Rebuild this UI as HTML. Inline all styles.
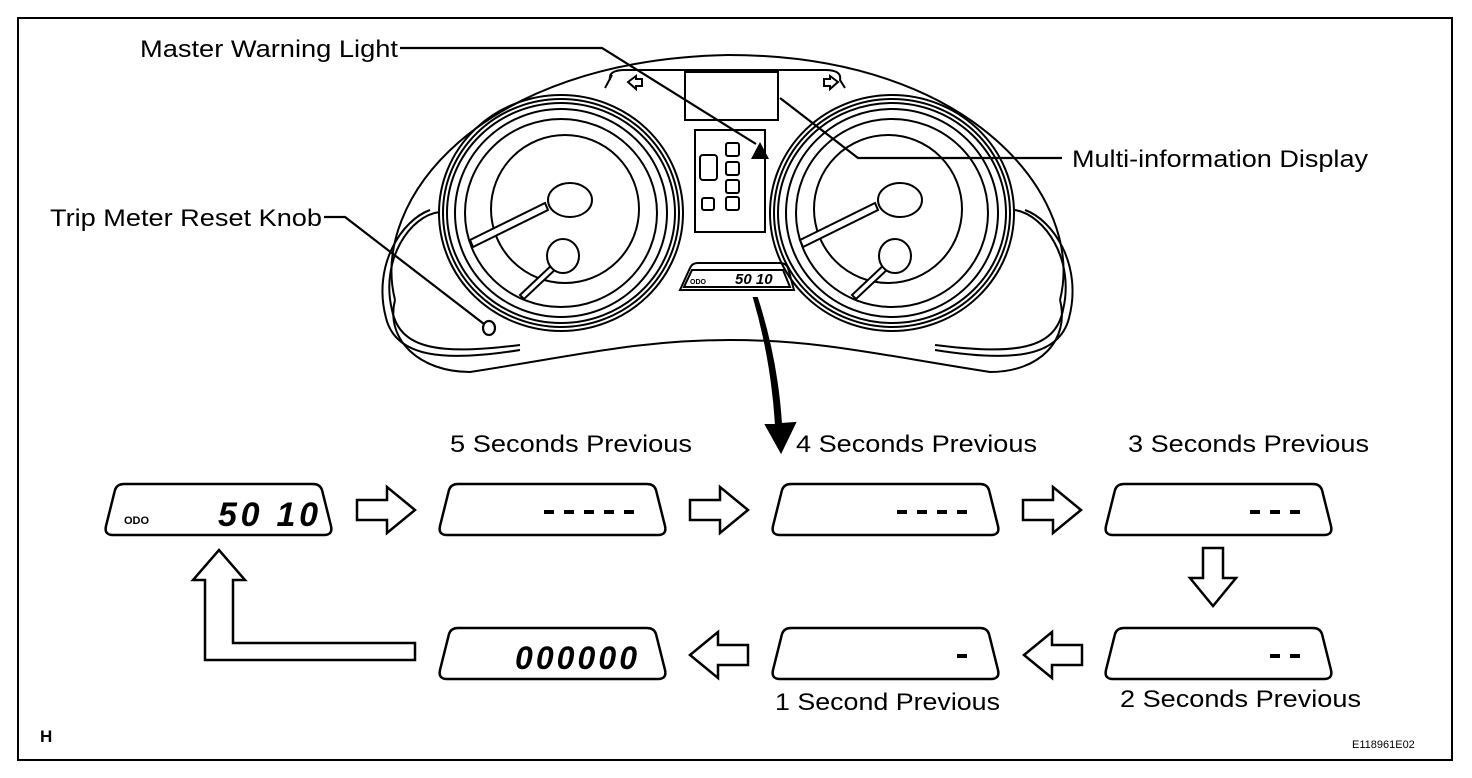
<!DOCTYPE html>
<html><head><style>
html,body{margin:0;padding:0;background:#fff;}
svg{display:block;}
text{font-family:"Liberation Sans",Arial,sans-serif;fill:#000;}
</style></head><body>
<svg width="1472" height="778" viewBox="0 0 1472 778" xmlns="http://www.w3.org/2000/svg">
<defs>
<g id="disp"><path d="M18,0 H207 Q214,0 216,6 L225,42 Q227,51 218,51 H7 Q-2,51 0,42 L9,6 Q11,0 18,0 Z" fill="#fff" stroke="#000" stroke-width="2.5"/></g>
<g id="rarr"><path d="M0,-10 H30 V-23 L58,0 L30,23 V10 H0 Z" fill="#fff" stroke="#000" stroke-width="2.5"/></g>
</defs>
<rect x="18" y="18" width="1434" height="742" fill="none" stroke="#000" stroke-width="2"/>

<!-- cluster -->
<g fill="none" stroke="#000" stroke-width="2">
<path d="M395,300 C370,200 480,60 728,55 C975,55 1085,200 1060,300"/>
<path d="M395,300 C385,340 420,372 470,372 C580,355 640,340 730,340 C820,340 880,355 990,372 C1040,372 1070,340 1060,300"/>
<path d="M440,212 C410,215 380,260 392,310 C400,350 440,355 520,345"/>
<path d="M430,210 C402,220 372,265 386,318 C396,358 445,362 520,350"/>
<path d="M1015,210 C1045,215 1075,260 1063,310 C1055,350 1015,355 935,345"/>
<path d="M1025,210 C1053,220 1083,265 1069,318 C1059,358 1010,362 935,350"/>
<ellipse cx="561" cy="213" rx="122" ry="118"/>
<ellipse cx="561" cy="213" rx="118" ry="114"/>
<ellipse cx="561" cy="213" rx="114" ry="110"/>
<ellipse cx="561" cy="213" rx="106" ry="104"/>
<ellipse cx="561" cy="213" rx="96" ry="94"/>
<ellipse cx="565" cy="209" rx="74" ry="74"/>
<ellipse cx="892" cy="213" rx="122" ry="118"/>
<ellipse cx="892" cy="213" rx="118" ry="114"/>
<ellipse cx="892" cy="213" rx="114" ry="110"/>
<ellipse cx="892" cy="213" rx="106" ry="104"/>
<ellipse cx="892" cy="213" rx="96" ry="94"/>
<ellipse cx="888" cy="209" rx="74" ry="74"/>
<path d="M610,80 Q608,70 625,70 H825 Q842,70 840,80 L845,88"/>
<path d="M605,88 L612,75"/>
<rect x="685" y="72" width="93" height="48"/>
<rect x="695" y="130" width="70" height="102"/>
<path d="M680,290 L690,268 Q692,263 698,263 H780 Q786,263 788,268 L794,290 Z"/>
<path d="M684,287 L692,270 H783 L790,287 Z"/>
<rect x="700" y="155" width="17" height="25" rx="3"/>
<rect x="726" y="143" width="13" height="13" rx="2"/>
<rect x="726" y="162" width="13" height="13" rx="2"/>
<rect x="726" y="180" width="13" height="13" rx="2"/>
<rect x="726" y="197" width="13" height="13" rx="2"/>
<rect x="702" y="198" width="12" height="12" rx="2"/>
<path d="M628,82 L636,76 V79 H642 V86 H636 V89 Z"/>
<path d="M838,82 L830,76 V79 H824 V86 H830 V89 Z"/>
<path d="M470,240 L545,203 L548,210 L473,247 Z" fill="#fff"/>
<ellipse cx="570" cy="200" rx="22" ry="17" fill="#fff"/>
<path d="M520,295 L555,262 L559,266 L524,299 Z" fill="#fff"/>
<ellipse cx="563" cy="256" rx="16" ry="17" fill="#fff"/>
<path d="M800,240 L875,203 L878,210 L803,247 Z" fill="#fff"/>
<ellipse cx="900" cy="200" rx="22" ry="17" fill="#fff"/>
<path d="M852,295 L887,262 L891,266 L856,299 Z" fill="#fff"/>
<ellipse cx="895" cy="256" rx="16" ry="17" fill="#fff"/>
<ellipse cx="489" cy="328" rx="6" ry="7" stroke-width="2.2"/>
</g>
<path d="M760,142 L769,159 H751 Z" fill="#000"/>
<text x="690" y="284" font-size="7" font-weight="bold">ODO</text>
<text x="735" y="284" font-size="15" font-weight="bold" font-style="italic">50 10</text>

<!-- leaders -->
<g fill="none" stroke="#000" stroke-width="2.2">
<path d="M400,48 H602 L756,144"/>
<path d="M1062,158 H858 L780,98"/>
<path d="M324,217 H345 L484,324"/>
</g>
<g font-size="24">
<text x="140" y="57" textLength="258" lengthAdjust="spacingAndGlyphs">Master Warning Light</text>
<text x="1072" y="167" textLength="296" lengthAdjust="spacingAndGlyphs">Multi-information Display</text>
<text x="50" y="226" textLength="272" lengthAdjust="spacingAndGlyphs">Trip Meter Reset Knob</text>
<text x="450" y="452" textLength="242" lengthAdjust="spacingAndGlyphs">5 Seconds Previous</text>
<text x="796" y="452" textLength="241" lengthAdjust="spacingAndGlyphs">4 Seconds Previous</text>
<text x="1128" y="452" textLength="241" lengthAdjust="spacingAndGlyphs">3 Seconds Previous</text>
<text x="775" y="710" textLength="225" lengthAdjust="spacingAndGlyphs">1 Second Previous</text>
<text x="1120" y="707" textLength="241" lengthAdjust="spacingAndGlyphs">2 Seconds Previous</text>
</g>

<path d="M754,298 Q772,360 776,425 L766,425 L781,452 L795,423 L781,424 Q777,360 757,298 Z" fill="#000" stroke="#000" stroke-width="2"/>

<text x="40" y="742" font-size="17" font-weight="bold">H</text>
<text x="1352" y="748" font-size="11">E118961E02</text>

<use href="#disp" x="106" y="484"/>
<use href="#disp" x="440" y="484"/>
<use href="#disp" x="773" y="484"/>
<use href="#disp" x="1106" y="484"/>
<use href="#disp" x="440" y="628"/>
<use href="#disp" x="773" y="628"/>
<use href="#disp" x="1106" y="628"/>
<text x="124" y="524" font-size="11" font-weight="bold">ODO</text>
<text x="218" y="526" font-size="34" font-weight="bold" font-style="italic" textLength="100">50 10</text>
<text x="515" y="669" font-size="32" font-weight="bold" font-style="italic" textLength="122">000000</text>
<g fill="#000">
<rect x="544" y="510" width="10" height="4"/><rect x="564" y="510" width="10" height="4"/><rect x="584" y="510" width="10" height="4"/><rect x="604" y="510" width="10" height="4"/><rect x="624" y="510" width="10" height="4"/>
<rect x="897" y="510" width="10" height="4"/><rect x="917" y="510" width="10" height="4"/><rect x="937" y="510" width="10" height="4"/><rect x="957" y="510" width="10" height="4"/>
<rect x="1250" y="510" width="10" height="4"/><rect x="1270" y="510" width="10" height="4"/><rect x="1290" y="510" width="10" height="4"/>
<rect x="1270" y="654" width="10" height="4"/><rect x="1290" y="654" width="10" height="4"/>
<rect x="957" y="654" width="10" height="4"/>
</g>

<use href="#rarr" x="357" y="510"/>
<use href="#rarr" x="690" y="510"/>
<use href="#rarr" x="1023" y="510"/>
<use href="#rarr" transform="translate(748,655) scale(-1,1)"/>
<use href="#rarr" transform="translate(1082,655) scale(-1,1)"/>
<use href="#rarr" transform="translate(1213,548) rotate(90)"/>
<path d="M415,660 H205 V580 H193 L219,550 L245,580 H233 V643 H415 Z" fill="#fff" stroke="#000" stroke-width="2.5"/>
</svg>
</body></html>
